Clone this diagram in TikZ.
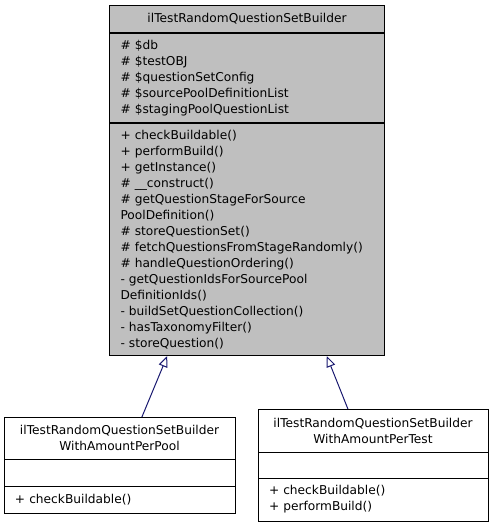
\documentclass[tikz,border=0pt]{standalone}
\usepackage{fontspec}
\setmainfont{DejaVu Sans}
\usetikzlibrary{positioning}
\usetikzlibrary{calc}
\usetikzlibrary{arrows.meta}
\colorlet{base colour}{black!25}
\definecolor{edge colour}{HTML}{191970}
\tikzset{
    % Define a set of styles
    % Doxygen-ish text size, one line every 16px
    every node/.style={font=\fontsize{12.2}{16}\selectfont},
    % Compartments of the highlighted class
    base part/.style={draw, fill=base colour, line width=1pt,
        text width=253pt, inner xsep=11pt, inner ysep=2pt, align=left},
    % Compartments of the derived classes
    sub part/.style={draw, fill=white, line width=1pt, outer sep=0pt,
        text width=#1, inner xsep=11pt, inner ysep=2pt, align=left},
    % Generalisation arrow
    inherit/.style={color=edge colour, line width=1pt,
        -{Triangle[open, length=11pt, width=9pt]}},
}

\begin{document}
\begin{tikzpicture}[x=1pt, y=-1pt]

\useasboundingbox (0,0) rectangle (493,528);

% The base class
\node (base title) [base part, align=center, minimum height=27pt,
    anchor=north west] at (109,5) {ilTestRandomQuestionSetBuilder};
\node (base attrs) [base part, minimum height=89pt, below=0pt of base title]
    {\# \$db\\
     \# \$testOBJ\\
     \# \$questionSetConfig\\
     \# \$sourcePoolDefinitionList\\
     \# \$stagingPoolQuestionList};
\node (base ops) [base part, minimum height=232pt, below=0pt of base attrs]
    {+ checkBuildable()\\
     + performBuild()\\
     + getInstance()\\
     \# \_\_construct()\\
     \# getQuestionStageForSource\\
     PoolDefinition()\\
     \# storeQuestionSet()\\
     \# fetchQuestionsFromStageRandomly()\\
     \# handleQuestionOrdering()\\
     - getQuestionIdsForSourcePool\\
     DefinitionIds()\\
     - buildSetQuestionCollection()\\
     - hasTaxonomyFilter()\\
     - storeQuestion()};

% Derived class, amount per pool
\node (pool title) [sub part=209pt, align=center, minimum height=42pt,
    anchor=north west] at (4,417)
    {ilTestRandomQuestionSetBuilder\\WithAmountPerPool};
\node (pool attrs) [sub part=209pt, minimum height=27pt,
    below=0pt of pool title] {};
\node (pool ops) [sub part=209pt, minimum height=27pt,
    below=0pt of pool attrs] {+ checkBuildable()};

% Derived class, amount per test
\node (test title) [sub part=208pt, align=center, minimum height=43pt,
    anchor=north west] at (258,409)
    {ilTestRandomQuestionSetBuilder\\WithAmountPerTest};
\node (test attrs) [sub part=208pt, minimum height=26pt,
    below=0pt of test title] {};
\node (test ops) [sub part=208pt, minimum height=43pt,
    below=0pt of test attrs] {+ checkBuildable()\\+ performBuild()};

\draw [inherit] ($(pool title.north west)!0.597!(pool title.north east)$)
    -- ($(base ops.south west)!0.211!(base ops.south east)$);
\draw [inherit] ($(test title.north west)!0.391!(test title.north east)$)
    -- ($(base ops.south west)!0.789!(base ops.south east)$);

\end{tikzpicture}
\end{document}
